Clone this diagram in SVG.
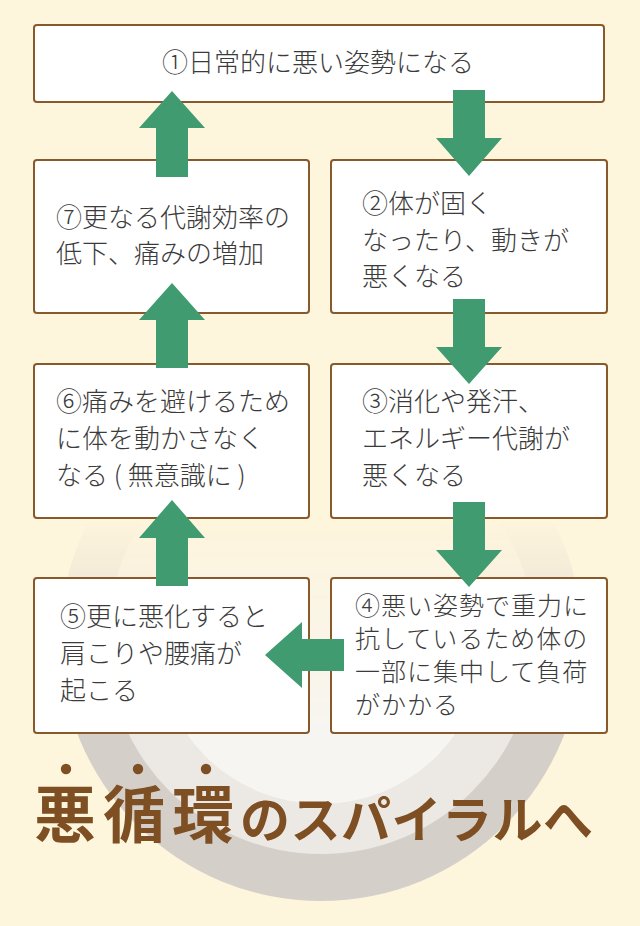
<svg xmlns="http://www.w3.org/2000/svg" width="640" height="926" viewBox="0 0 640 926">
  <style>
    .box { fill: #ffffff; stroke: #87592b; stroke-width: 2; }
    .t { font-family: "Noto Sans CJK JP", "Noto Sans", sans-serif; font-size: 26px; font-weight: 300; fill: #3b3b3b; }
    .t4 { font-size: 25px; letter-spacing: 1px; }
    .arrow { fill: #419b70; }
    .title { font-family: "Noto Sans CJK JP", "Noto Sans", sans-serif; font-weight: bold; fill: #7d4f23; }
  </style>
  <defs>
    <linearGradient id="fade" gradientUnits="userSpaceOnUse" x1="0" y1="520" x2="0" y2="735">
      <stop offset="0" stop-color="#fff" stop-opacity="0"/>
      <stop offset="1" stop-color="#fff" stop-opacity="1"/>
    </linearGradient>
    <mask id="circleMask" maskUnits="userSpaceOnUse" x="0" y="0" width="640" height="926">
      <rect x="0" y="0" width="640" height="926" fill="url(#fade)"/>
    </mask>
  </defs>

  <rect x="0" y="0" width="640" height="926" fill="#fef5dd"/>

  <g id="background-circles" mask="url(#circleMask)">
    <circle cx="321" cy="640" r="261" fill="#d5cfc9"/>
    <circle cx="321" cy="640" r="214" fill="#ece8e3"/>
    <circle cx="321" cy="640" r="164" fill="#f7f5f1"/>
  </g>

  <g id="node1">
    <rect class="box" x="34" y="25" width="570" height="77" rx="3"/>
    <text class="t" x="318" y="72" text-anchor="middle">①日常的に悪い姿勢になる</text>
  </g>
  <g id="node2">
    <rect class="box" x="331" y="160" width="276" height="153" rx="3"/>
    <text class="t" x="362" y="213">②体が固く</text>
    <text class="t" x="362" y="250">なったり、動きが</text>
    <text class="t" x="362" y="286">悪くなる</text>
  </g>
  <g id="node3">
    <rect class="box" x="331" y="364" width="276" height="154" rx="3"/>
    <text class="t" x="362" y="411">③消化や発汗、</text>
    <text class="t" x="362" y="448">エネルギー代謝が</text>
    <text class="t" x="362" y="485">悪くなる</text>
  </g>
  <g id="node4">
    <rect class="box" x="331" y="578" width="276" height="155" rx="3"/>
    <text class="t t4" x="355" y="615">④悪い姿勢で重力に</text>
    <text class="t t4" x="355" y="648">抗しているため体の</text>
    <text class="t t4" x="355" y="681">一部に集中して負荷</text>
    <text class="t t4" x="355" y="714">がかかる</text>
  </g>
  <g id="node5">
    <rect class="box" x="34" y="578" width="275" height="155" rx="3"/>
    <text class="t" x="60" y="626">⑤更に悪化すると</text>
    <text class="t" x="60" y="663">肩こりや腰痛が</text>
    <text class="t" x="60" y="700">起こる</text>
  </g>
  <g id="node6">
    <rect class="box" x="34" y="364" width="275" height="154" rx="3"/>
    <text class="t" x="56" y="411">⑥痛みを避けるため</text>
    <text class="t" x="56" y="448">に体を動かさなく</text>
    <text class="t" x="56" y="485">なる ( 無意識に )</text>
  </g>
  <g id="node7">
    <rect class="box" x="34" y="160" width="275" height="153" rx="3"/>
    <text class="t" x="56" y="227">⑦更なる代謝効率の</text>
    <text class="t" x="56" y="263">低下、痛みの増加</text>
  </g>

  <g id="connectors">
    <polygon class="arrow" points="469,176 502,138 485,138 485,90 453,90 453,138 436,138"/>
    <polygon class="arrow" points="469,384 502,347 485,347 485,299 453,299 453,347 436,347"/>
    <polygon class="arrow" points="469,587 502,550 485,550 485,502 453,502 453,550 436,550"/>
    <polygon class="arrow" points="265,655 302,622 302,639 344,639 344,671 302,671 302,688"/>
    <polygon class="arrow" points="172,500 205,538 188,538 188,586 156,586 156,538 139,538"/>
    <polygon class="arrow" points="172,283 205,320 188,320 188,368 156,368 156,320 139,320"/>
    <polygon class="arrow" points="172,91 205,128 188,128 188,177 156,177 156,128 139,128"/>
  </g>

  <g id="title">
    <circle cx="66" cy="769" r="5.2" fill="#7d4f23"/>
    <circle cx="138" cy="769" r="5.2" fill="#7d4f23"/>
    <circle cx="206" cy="769" r="5.2" fill="#7d4f23"/>
    <text class="title" x="34" y="838" font-size="62" letter-spacing="7">悪循環</text>
    <text class="title" x="240" y="838" font-size="50" letter-spacing="0.5">のスパイラルへ</text>
  </g>
</svg>
